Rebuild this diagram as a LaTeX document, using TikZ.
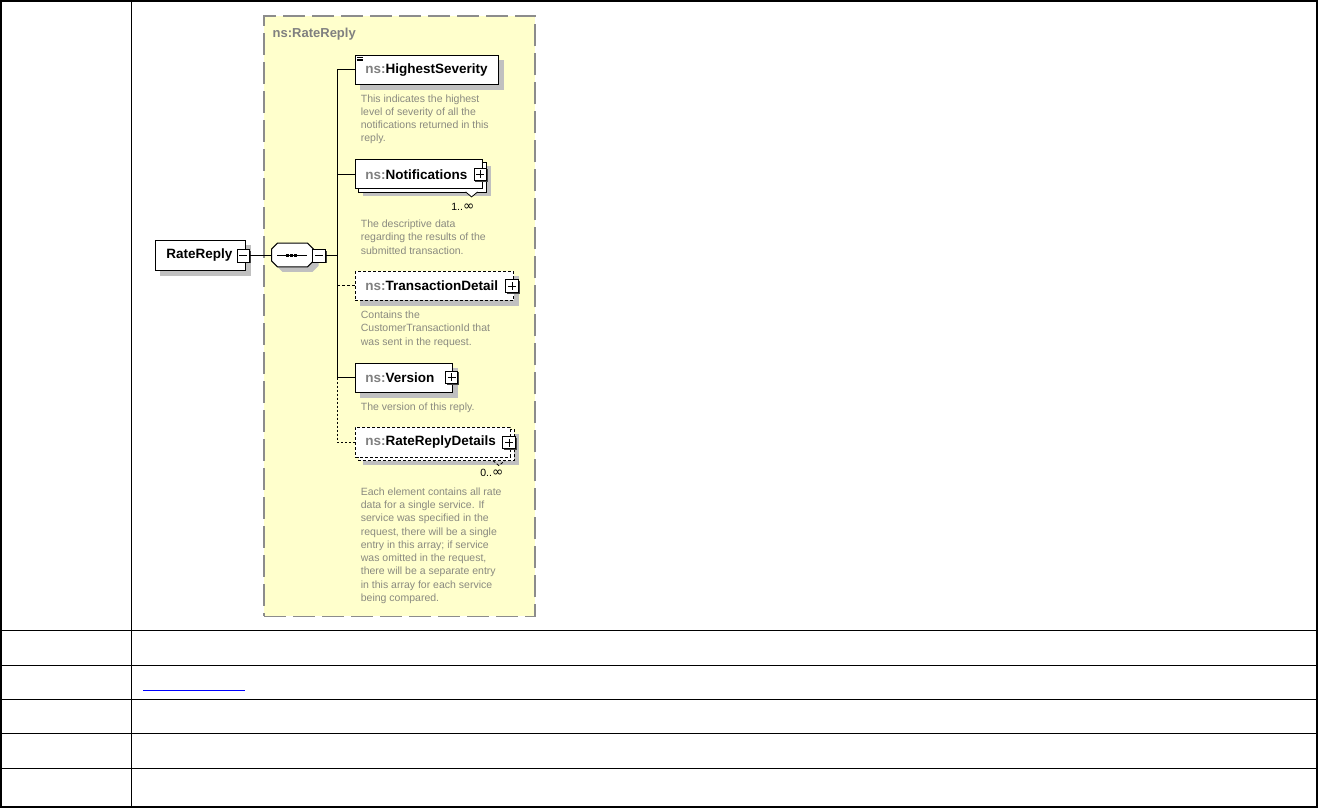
\documentclass[tikz,border=0pt]{standalone}
\usepackage{fontspec}
\setmainfont{Liberation Sans}
\newfontfamily\symfont{DejaVu Sans}
\usetikzlibrary{calc}
\definecolor{yel}{RGB}{255,255,204}
\definecolor{cbord}{RGB}{140,140,140}
\definecolor{shadc}{RGB}{192,192,192}
\definecolor{descc}{RGB}{138,138,128}
\definecolor{nsc}{RGB}{128,128,128}
\definecolor{linkc}{RGB}{0,0,255}
\pgfdeclarelayer{bglayer}
\pgfdeclarelayer{shadlayer}
\pgfsetlayers{bglayer,shadlayer,main}
\newcommand\nsel[1]{\textcolor{nsc}{ns:}#1}
\newcommand\infsym{{\symfont\fontsize{13.5}{12}\selectfont ∞}}
\begin{document}
\begin{tikzpicture}[x=1pt,y=-1pt,
  tbl/.style={line width=1.4pt, black},
  conn/.style={line width=1pt, black},
  elem/.style={draw=black, line width=0.9pt, fill=white, anchor=north west,
    inner xsep=10pt, inner ysep=0pt, minimum height=29pt, align=left,
    font=\fontsize{13.5}{15}\selectfont\bfseries},
  optl/.style={dash pattern=on 3pt off 2pt},
  desc/.style={anchor=north west, inner sep=0pt, align=left, text=descc,
    font=\fontsize{10.5}{13.25}\selectfont},
  mult/.style={inner sep=0pt, font=\fontsize{10.5}{12}\selectfont},
  pmbox/.style={draw=black, line width=0.8pt, fill=white, minimum size=12.5pt, inner sep=0pt,
    preaction={fill=black!75, draw=none, transform canvas={shift={(1.3,1.3)}}}},
  minusbox/.style={pmbox, path picture={
    \draw[line width=0.9pt] ($(path picture bounding box.center)+(-4,0)$) -- ($(path picture bounding box.center)+(4,0)$);}},
  plusbox/.style={pmbox, path picture={
    \draw[line width=0.9pt] ($(path picture bounding box.center)+(-4,0)$) -- ($(path picture bounding box.center)+(4,0)$)
      ($(path picture bounding box.center)+(0,-4)$) -- ($(path picture bounding box.center)+(0,4)$);}},
  shd/.style={fill=shadc, draw=none, transform canvas={shift={(5,5)}}}
]
\useasboundingbox (0,0) rectangle (1318,808);
% table
\draw[tbl] (1,1) rectangle (1317,807);
\draw[tbl] (131.7,1) -- (131.7,807);
\foreach \yy in {630.7,665.3,699.3,733.3,768.3} \draw[tbl] (1,\yy) -- (1317,\yy);
\draw[linkc, line width=1pt] (143,690) -- (245,690);

% container
\begin{pgfonlayer}{bglayer}
\node[draw=cbord, line width=1.5pt, dash pattern=on 22pt off 7pt, fill=yel, anchor=north west,
  minimum width=271pt, minimum height=600.5pt, inner sep=0pt] (cont) at (263.3,15.2) {};
\end{pgfonlayer}
\node[anchor=base west, inner sep=0pt, text=nsc, font=\fontsize{13}{15}\selectfont\bfseries] (contlbl) at (272.5,37.5) {ns:RateReply};

% root
\node[elem, text width=68pt, minimum height=30pt, inner xsep=11pt] (rr) at (155,240) {RateReply};
\node[minusbox] (rrm) at (243.3,255.7) {};

% sequence
\node[draw=none, minimum width=41.6pt, minimum height=23.4pt, inner sep=0pt] (seq) at (292.5,255) {};
\draw[conn, fill=white] ($(seq.north west)+(6,0)$) -- ($(seq.north east)+(-6,0)$) -- ($(seq.north east)+(0,6)$)
  -- ($(seq.south east)+(0,-6)$) -- ($(seq.south east)+(-6,0)$) -- ($(seq.south west)+(6,0)$)
  -- ($(seq.south west)+(0,-6)$) -- ($(seq.north west)+(0,6)$) -- cycle;
\draw[line width=0.9pt] ($(seq.center)+(-15.5,0.5)$) -- ($(seq.center)+(14.5,0.5)$);
\foreach \dx in {-6.5,-2.5,1.5} \fill ($(seq.center)+(\dx,-1)$) rectangle ++(3,3);
\node[minusbox] (seqm) at (319,255.7) {};

% elements
\node[elem, text width=123.3pt] (hs) at (355,55) {\nsel{HighestSeverity}};
\draw[line width=0.6pt] ($(hs.north west)+(2,2.3)$) -- ++(6,0) ($(hs.north west)+(2,4)$) -- ++(6,0) ($(hs.north west)+(2,5.7)$) -- ++(6,0);
\node[elem, text width=106.7pt] (no) at (355,159.3) {\nsel{Notifications}};
\node[plusbox] (nop) at (480.3,174.3) {};
\node[elem, optl, text width=138.3pt] (td) at (355,271) {\nsel{TransactionDetail}};
\node[plusbox] (tdp) at (512,286) {};
\node[elem, text width=76.7pt] (ve) at (355,362.7) {\nsel{Version}};
\node[plusbox] (vep) at (451.5,377.3) {};
\node[elem, optl, text width=135pt, minimum height=30pt] (rd) at (355,426.7) {\nsel{RateReplyDetails}};
\node[plusbox] (rdp) at (509,442.5) {};

% shadows and stack copies
\begin{pgfonlayer}{shadlayer}
\fill[shd] (rr.north west) rectangle (rr.south east);
\fill[shd] ($(seq.north west)+(6,0)$) -- ($(seq.north east)+(-6,0)$) -- ($(seq.north east)+(0,6)$)
  -- ($(seq.south east)+(0,-6)$) -- ($(seq.south east)+(-6,0)$) -- ($(seq.south west)+(6,0)$)
  -- ($(seq.south west)+(0,-6)$) -- ($(seq.north west)+(0,6)$) -- cycle;
\fill[shd] (hs.north west) rectangle (hs.south east);
\fill[shd] (td.north west) rectangle (td.south east);
\fill[shd] (ve.north west) rectangle (ve.south east);
\fill[fill=shadc, transform canvas={shift={(8,7)}}] (no.north west) rectangle (no.south east);
\draw[line width=0.9pt, fill=white, transform canvas={shift={(3.5,3)}}] (no.north west) rectangle (no.south east);
\fill[fill=shadc, transform canvas={shift={(8,7)}}] (rd.north west) rectangle (rd.south east);
\draw[line width=0.9pt, optl, fill=white, transform canvas={shift={(3.5,3)}}] (rd.north west) rectangle (rd.south east);
\end{pgfonlayer}

% notches
\draw[line width=0.8pt, fill=white] ($(no.south east)+(-17,2.7)$) -- ++(6,5) -- ++(6,-5);
\draw[line width=0.8pt, optl] ($(rd.south east)+(-18,3)$) -- ++(6,5) -- ++(6,-5);

% multiplicities
\node[mult, anchor=east] (nom) at (474.5,206.7) {1..\infsym};
\node[mult, anchor=east] (rdm) at (503.5,472.7) {0..\infsym};

% descriptions
\node[desc] (hsd) at (360.7,94.2) {This indicates the highest\\level of severity of all the\\notifications returned in this\\reply.};
\node[desc] (nod) at (360.7,219.9) {The descriptive data\\regarding the results of the\\submitted transaction.};
\node[desc] (tdd) at (360.7,310.9) {Contains the\\CustomerTransactionId that\\was sent in the request.};
\node[desc] (ved) at (360.7,402.6) {The version of this reply.};
\node[desc] (rdd) at (360.7,487.6) {Each element contains all rate\\data for a single service. If\\service was specified in the\\request, there will be a single\\entry in this array; if service\\was omitted in the request,\\there will be a separate entry\\in this array for each service\\being compared.};

% connectors
\coordinate (tr) at (337.3,255.7);
\draw[conn] (rrm.east) -- (rrm.east -| seq.west);
\draw[conn] (seqm.east) -- (tr);
\draw[conn] (hs.west) -- (hs.west -| tr) -- (ve.west -| tr) -- (ve.west);
\draw[conn] (no.west) -- (no.west -| tr);
\draw[conn, dash pattern=on 3pt off 2pt] (td.west) -- (td.west -| tr);
\draw[conn, dash pattern=on 2pt off 2pt] (ve.west -| tr) -- (rd.west -| tr) -- (rd.west);
\end{tikzpicture}
\end{document}
